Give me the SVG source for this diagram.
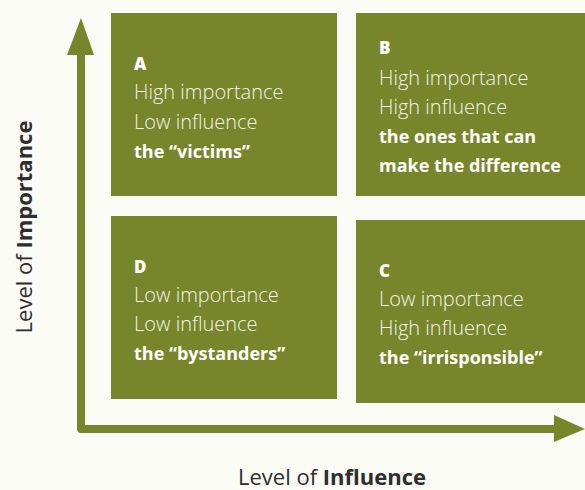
<svg xmlns="http://www.w3.org/2000/svg" width="585" height="490" viewBox="0 0 585 490">
<style>
.box{fill:#77862a}
.t{font-family:"Open Sans","Noto Sans",sans-serif;font-size:20px;fill:#f4f4ea;font-weight:300}
.b{font-size:18px;font-weight:700;fill:#ffffff}
.h{font-family:"Open Sans","Noto Sans",sans-serif;font-size:17px;font-weight:800;fill:#ffffff}
.ax{font-family:"Open Sans","Noto Sans",sans-serif;font-size:22px;fill:#2e2e2e;font-weight:400}
.axb{font-weight:700}
.axis{fill:none;stroke:#77862a;stroke-width:8;stroke-linejoin:round}
.head{fill:#77862a}
</style>
<rect width="585" height="490" fill="#fbfbf6"/>
<g id="connectors">
<path class="axis" d="M81,50 V429 H560"/>
<polygon class="head" points="81,18 94,55 67,55"/>
<polygon class="head" points="585,429 554,442 554,415"/>
</g>
<g id="nodeA">
<rect class="box" x="111" y="13" width="226" height="183"/>
<text class="h" x="134" y="70">A</text>
<text class="t" x="134" y="99">High importance</text>
<text class="t" x="134" y="129">Low influence</text>
<text class="t b" x="134" y="158">the “victims”</text>
</g>
<g id="nodeB">
<rect class="box" x="356" y="13" width="229" height="183"/>
<text class="h" x="379" y="54">B</text>
<text class="t" x="379" y="85">High importance</text>
<text class="t" x="379" y="114">High influence</text>
<text class="t b" x="379" y="143">the ones that can</text>
<text class="t b" x="379" y="172">make the difference</text>
</g>
<g id="nodeD">
<rect class="box" x="111" y="216" width="226" height="183"/>
<text class="h" x="134" y="273">D</text>
<text class="t" x="134" y="302">Low importance</text>
<text class="t" x="134" y="331">Low influence</text>
<text class="t b" x="134" y="360">the “bystanders”</text>
</g>
<g id="nodeC">
<rect class="box" x="356" y="220" width="229" height="183"/>
<text class="h" x="379" y="277">C</text>
<text class="t" x="379" y="306">Low importance</text>
<text class="t" x="379" y="335">High influence</text>
<text class="t b" x="379" y="364">the “irrisponsible”</text>
</g>
<g id="axis-labels">
<text class="ax" transform="translate(32,227) rotate(-90)" text-anchor="middle">Level of <tspan class="axb">Importance</tspan></text>
<text class="ax" x="332" y="485" text-anchor="middle">Level of <tspan class="axb">Influence</tspan></text>
</g>
</svg>
